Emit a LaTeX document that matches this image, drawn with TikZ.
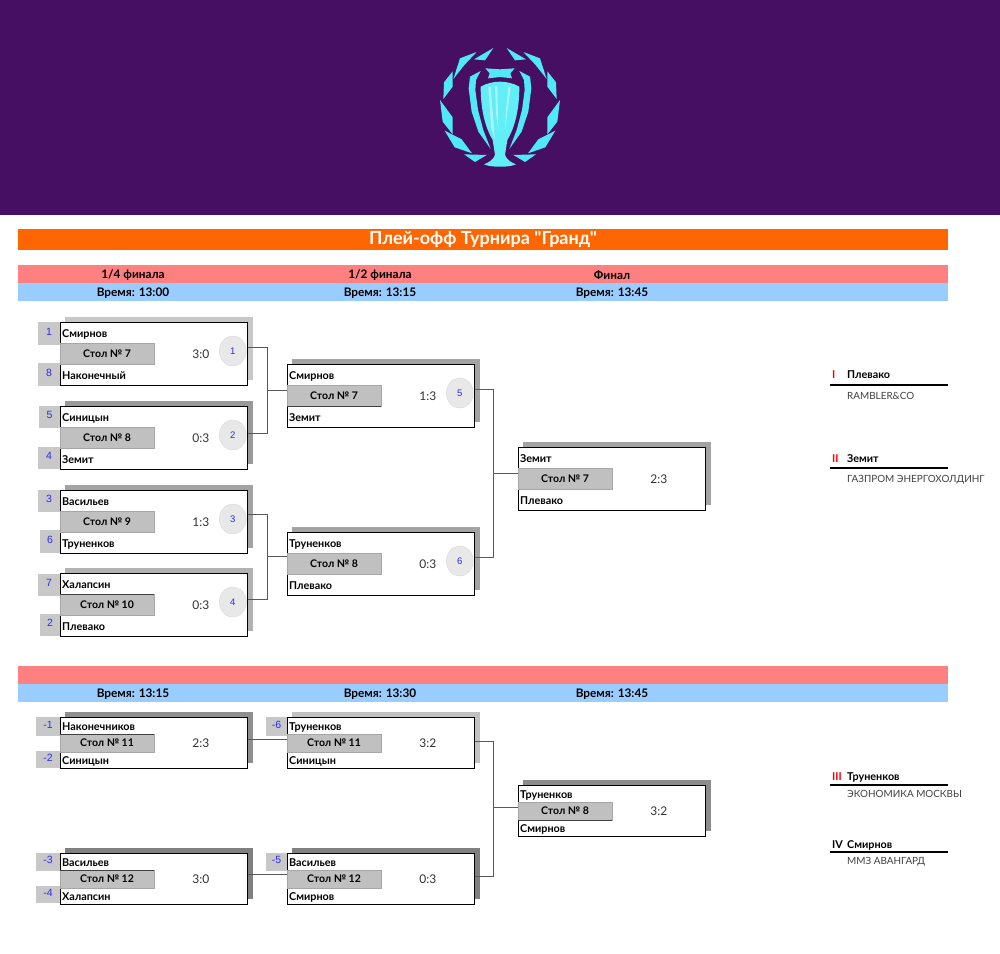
\documentclass[tikz,border=0pt]{standalone}
\usepackage{fontspec}
\setmainfont{Lato}[Ligatures=NoCommon]
\newfontfamily\latofont{Lato}
\newfontfamily\seedfont{Liberation Sans}
\definecolor{plum}{HTML}{470F63}
\definecolor{aqua}{HTML}{4FEAF6}
\definecolor{cupbody}{HTML}{62EEF6}
\definecolor{glint}{HTML}{A8F4F8}
\definecolor{orangebar}{HTML}{FF6600}
\definecolor{pinkbar}{HTML}{FF8080}
\definecolor{bluebar}{HTML}{99CCFF}
\definecolor{bandgray}{HTML}{C0C0C0}
\definecolor{seedgray}{HTML}{C8C8C8}
\definecolor{seedblue}{HTML}{2A2AF5}
\tikzset{
  bar/.style={anchor=north west,minimum width=930pt,inner sep=0pt,outer sep=0pt},
  barlabel/.style={font=\latofont\bfseries\fontsize{11.8}{14}\selectfont},
  matchbox/.style={draw=black,line width=1pt,fill=white,anchor=north west,minimum width=187.5pt,inner sep=0pt,outer sep=0pt},
  shadowbox/.style={anchor=north west,minimum width=188pt,inner sep=0pt,outer sep=0pt},
  tableband/.style={fill=bandgray,draw=black!35,line width=0.5pt,anchor=west,minimum width=94pt,inner sep=0pt,outer sep=0pt,font=\latofont\bfseries\fontsize{10.5}{12}\selectfont},
  bandedge/.style={draw=black!75,line width=0.8pt},
  playername/.style={anchor=west,inner sep=0pt,font=\latofont\bfseries\fontsize{10.8}{12}\selectfont},
  scorelabel/.style={font=\latofont\fontsize{12}{14}\selectfont,text=black!80,inner sep=0pt},
  seedbox/.style={fill=seedgray,anchor=north west,inner sep=0pt,outer sep=0pt,text=seedblue,font=\seedfont\fontsize{10.5}{12}\selectfont,text height=7pt,text depth=4pt},
  roundmark/.style={ellipse,draw=black!15,fill=black!9,minimum width=27pt,minimum height=30pt,inner sep=0pt,text=seedblue,font=\seedfont\fontsize{9.5}{12}\selectfont},
  link/.style={draw=black!65,line width=1pt},
  placerule/.style={line width=1.5pt},
  placelabel/.style={anchor=west,inner sep=0pt,font=\latofont\bfseries\fontsize{10.8}{12}\selectfont},
  clublabel/.style={anchor=west,inner sep=0pt,text=black!75,font=\latofont\fontsize{9.9}{12}\selectfont},
}
\usetikzlibrary{shapes.geometric}
\begin{document}
\begin{tikzpicture}[x=1pt,y=-1pt]
\useasboundingbox (0,0) rectangle (1000,953);

% top banner and cup
\fill[plum] (0,0) rectangle (1000,215);
\foreach \flip in {1,-1}{
\begin{scope}[shift={(500,30)},xscale=\flip/3,yscale=1/3]
  \fill[aqua] (-20,54) -- (-78,88) -- (-45,91) -- cycle;
  \fill[aqua] (-70,66) -- (-120,85) -- (-140,147) -- (-106,104) -- cycle;
  \fill[aqua] (-142,124) -- (-168,157) -- (-170,207) -- (-142,170) -- cycle;
  \fill[aqua] (-180,210) -- (-142,262) -- (-142,313) -- (-172,275) -- cycle;
  \fill[aqua] (-166,302) -- (-115,328) -- (-84,370) -- (-136,352) -- cycle;
  \fill[aqua] (-108,373) -- (-40,375) -- (-75,396) -- cycle;
  \fill[aqua] (-58,123) -- (-90,140) -- (-94,175) -- (-85,245) -- (-65,305) -- (-28,357) -- (-50,300) -- (-66,240) -- (-74,180) -- (-72,150) -- cycle;
  \fill[aqua] (-44,115) -- (0,118) -- (0,141) -- (-36,145) -- (-31,130) -- cycle;
  \fill[cupbody] (0,155) .. controls (-20,155) and (-40,160) .. (-58,170) .. controls (-58,250) and (-40,300) .. (-22,330) -- (-15,375) .. controls (-20,390) and (-35,398) .. (-48,403) .. controls (-30,410) and (-15,410) .. (0,410) -- cycle;
\end{scope}
}
\begin{scope}[shift={(500,30)},scale=1/3]
  \fill[glint] (-35,172) -- (-28,170) -- (-15,330) -- (-27,290) -- cycle;
  \fill[glint] (-15,168) -- (-8,168) -- (-5,300) -- (-12,250) -- cycle;
  \fill[glint] (25,170) -- (32,172) -- (15,300) -- (18,240) -- cycle;
\end{scope}

% header bars
\node[bar,fill=orangebar,minimum height=21pt] (titlebar) at (18,229) {};
\node[font=\latofont\bfseries\fontsize{18}{20}\selectfont,text=white] (title) at ([yshift=-0.5pt]titlebar.center) {Плей-офф Турнира "Гранд"};
\node[bar,fill=pinkbar,minimum height=18pt] (roundbar) at (18,265) {};
\node[bar,fill=bluebar,minimum height=18pt] (timebar) at (18,283) {};
\node[bar,fill=pinkbar,minimum height=18pt] (lowbar) at (18,666) {};
\node[bar,fill=bluebar,minimum height=18pt] (lowtimebar) at (18,684) {};

\foreach \nm/\x/\y/\txt in {r1/133/275/1\slash 4 финала,r2/380/275/1\slash 2 финала,r3/612/275/Финал,
  t1/133/293/Время: 13:00,t2/380/293/Время: 13:15,t3/612/293/Время: 13:45,
  u1/133/694/Время: 13:15,u2/380/694/Время: 13:30,u3/612/694/Время: 13:45}
  \node[barlabel] (\nm) at (\x,\y) {\txt};

% matches: name/x/top/height/first/second/table/score/shadow
\foreach \m/\x/\y/\h/\na/\nb/\tb/\sc/\shade in {
  m1/60/322/63/Смирнов/Наконечный/Стол № 7/3:0/22,
  m2/60/406/63/Синицын/Земит/Стол № 8/0:3/40,
  m3/60/490/63/Васильев/Труненков/Стол № 9/1:3/36,
  m4/60/573/63/Халапсин/Плевако/Стол № 10/0:3/30,
  m5/287/364/63/Смирнов/Земит/Стол № 7/1:3/36,
  m6/287/532/63/Труненков/Плевако/Стол № 8/0:3/36,
  m7/518/447/63/Земит/Плевако/Стол № 7/2:3/36,
  l1/60/717/51/Наконечников/Синицын/Стол № 11/2:3/44,
  l2/60/853/51/Васильев/Халапсин/Стол № 12/3:0/50,
  l3/287/717/51/Труненков/Синицын/Стол № 11/3:2/24,
  l4/287/853/51/Васильев/Смирнов/Стол № 12/0:3/50,
  l5/518/785/51/Труненков/Смирнов/Стол № 8/3:2/45}{
  \node[shadowbox,fill=black!\shade,minimum height=\h pt] (\m s) at (\x+5,\y-5) {};
  \node[matchbox,minimum height=\h pt] (\m) at (\x,\y) {};
  \ifnum\h=63
    \node[tableband,minimum height=21pt] (\m b) at ([yshift=-0.5pt]\m.west) {\tb};
    \node[playername] (\m a) at (\x+2,\y+12) {\na};
    \node[playername] (\m c) at (\x+2,\y+54) {\nb};
  \else
    \node[tableband,minimum height=18pt] (\m b) at ([yshift=-0.5pt]\m.west) {\tb};
    \node[playername] (\m a) at (\x+2,\y+10) {\na};
    \node[playername] (\m c) at (\x+2,\y+44) {\nb};
  \fi
  \node[scorelabel] (\m v) at ([xshift=47pt,yshift=-1pt]\m.center) {\sc};
}
\draw[bandedge] (l1b.north west) -- (l1b.north east);
\draw[bandedge] (l2b.north west) -- (l2b.north east);
\draw[bandedge] (l5b.south west) -- (l5b.south east);
\draw[bandedge] (m5b.south west) -- (m5b.south east);
\draw[bandedge] (m4b.north west) -- (m4b.north east);

% seed boxes
\foreach \nm/\x/\y/\w/\h/\txt in {
  s1/38/322/22/23/1,s8/38/363/22/23/8,s5/39/406/21/22/5,s4/38/447/22/22/4,
  s3/38/490/22/22/3,s6/40/530/20/23/6,s7/38/574/22/22/7,s2/40/614/20/22/2,
  sa/36/717/24/19/-1,sb/36/751/24/17/-2,sc/36/853/24/18/-3,sd/36/886/24/17/-4,
  se/266/717/21/19/-6,sf/266/853/21/18/-5}
  \node[seedbox,minimum width=\w pt,minimum height=\h pt] (\nm) at (\x,\y) {\txt};

% round marks
\foreach \m/\txt in {m1/1,m2/2,m3/3,m4/4,m5/5,m6/6}
  \node[roundmark] (c\txt) at ([xshift=79pt,yshift=2.5pt]\m.center) {\txt};

% bracket lines
\coordinate (j1) at (267,390);
\coordinate (j2) at (267,556);
\coordinate (j3) at (493,473);
\coordinate (j4) at (493,807);
\draw[link] ([yshift=6.5pt]m1.east) -| (j1);
\draw[link] ([yshift=4.5pt]m2.east) -| (j1);
\draw[link] (j1) -- (m5.west |- j1);
\draw[link] ([yshift=7.5pt]m3.east) -| (j2);
\draw[link] ([yshift=5.5pt]m4.east) -| (j2);
\draw[link] (j2) -- (m6.west |- j2);
\draw[link] ([yshift=6.5pt]m5.east) -| (j3);
\draw[link] ([yshift=6pt]m6.east) -| (j3);
\draw[link] (j3) -- (m7.west |- j3);
\draw[link] ([yshift=3.5pt]l1.east) -- ([yshift=3.5pt]l3.west);
\draw[link] ([yshift=4pt]l2.east) -- ([yshift=4pt]l4.west);
\draw[link] ([yshift=1.5pt]l3.east) -| (j4);
\draw[link] ([yshift=2pt]l4.east) -| (j4);
\draw[link] (j4) -- (l5.west |- j4);

% places
\foreach \p/\rom/\col/\ny/\ry/\cy/\na/\club in {
  p1/I/red/375/385/396/Плевако/RAMBLER\&CO,
  p2/II/red/459/468/480/Земит/ГАЗПРОМ ЭНЕРГОХОЛДИНГ,
  p3/III/red/777/785/794/Труненков/ЭКОНОМИКА МОСКВЫ,
  p4/IV/black/845/852/862/Смирнов/ММЗ АВАНГАРД}{
  \node[placelabel,text=\col] (\p r) at (832,\ny) {\rom};
  \node[placelabel] (\p n) at (847,\ny) {\na};
  \node[clublabel] (\p c) at (847,\cy) {\club};
  \coordinate (\p a) at (830,\ry);
  \coordinate (\p b) at (948,\ry);
  \draw[placerule] (\p a) -- (\p b);
}
\end{tikzpicture}
\end{document}
